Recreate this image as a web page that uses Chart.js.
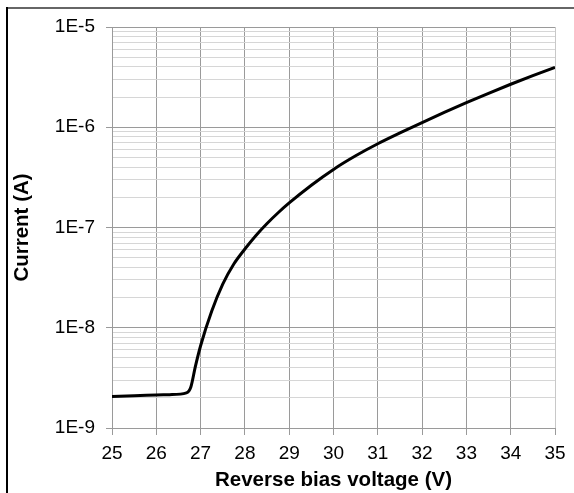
<!DOCTYPE html>
<html>
<head>
<meta charset="utf-8">
<script src="https://cdn.jsdelivr.net/npm/chart.js@4"></script>
<style>
  html, body { margin: 0; padding: 0; background: #fff; }
  #wrap { position: relative; width: 574px; height: 493px; overflow: hidden; }
  #c { position: absolute; left: 0; top: 0; }
  #frameTop { position: absolute; left: 6px; top: 7px; width: 568px; height: 2px; background: #666; }
  #frameLeft { position: absolute; left: 6px; top: 7px; width: 2px; height: 486px; background: #000; }
</style>
</head>
<body>
<div id="wrap">
  <canvas id="c" width="574" height="493"></canvas>
  <div id="frameTop"></div>
  <div id="frameLeft"></div>
</div>
<script>
// Reverse bias voltage (V)
const voltage = [25, 25.5, 26, 26.3, 26.68, 26.78, 26.88, 27.0, 27.25, 27.5, 27.75, 28.0, 28.25, 28.5, 28.75, 29, 29.5, 30, 30.5, 31, 31.5, 32, 32.5, 33, 33.5, 34, 34.5, 35];
// Current (A)
const current = [2.065e-9, 2.10e-9, 2.13e-9, 2.15e-9, 2.24e-9, 2.57e-9, 4.07e-9, 6.61e-9, 1.46e-8, 2.72e-8, 4.32e-8, 6.10e-8, 8.32e-8, 1.096e-7, 1.403e-7, 1.758e-7, 2.642e-7, 3.80e-7, 5.19e-7, 6.84e-7, 8.77e-7, 1.114e-6, 1.406e-6, 1.758e-6, 2.183e-6, 2.685e-6, 3.273e-6, 3.954e-6];

const xTicks = [25, 26, 27, 28, 29, 30, 31, 32, 33, 34, 35];
const yDecades = [1e-9, 1e-8, 1e-7, 1e-6, 1e-5];
const yDecadeLabels = ['1E-9', '1E-8', '1E-7', '1E-6', '1E-5'];
const minorMultipliers = [2, 3, 4, 5, 6, 7, 8, 9];

const points = voltage.map((v, i) => ({ x: v, y: current[i] }));

// gridline values: decades plus minor multiples within each decade
const yGridValues = [];
yDecades.forEach((d, i) => {
  yGridValues.push({ value: d, major: true, label: yDecadeLabels[i] });
  if (i < yDecades.length - 1) {
    minorMultipliers.forEach(m => yGridValues.push({ value: d * m, major: false, label: '' }));
  }
});

const FONT = "'Liberation Sans', Arial, sans-serif";
const MAJOR = '#9a9a9a';
const MINOR = '#d6d6d6';

new Chart(document.getElementById('c'), {
  type: 'line',
  data: {
    datasets: [{
      data: points,
      borderColor: '#000',
      borderWidth: 3,
      pointRadius: 0,
      fill: false,
      cubicInterpolationMode: 'monotone'
    }]
  },
  options: {
    responsive: false,
    animation: false,
    devicePixelRatio: 1,
    layout: { padding: { left: 0, right: 19, top: 27, bottom: 0 } },
    plugins: { legend: { display: false }, tooltip: { enabled: false } },
    scales: {
      x: {
        type: 'linear',
        min: 25, max: 35,
        afterBuildTicks: s => { s.ticks = xTicks.map(v => ({ value: v })); },
        afterFit: s => { s.height = 65; },
        ticks: {
          autoSkip: false,
          maxRotation: 0,
          padding: 7,
          color: '#000',
          font: { family: FONT, size: 19 },
          callback: v => String(v)
        },
        grid: {
          color: ctx => (ctx.tick && ctx.tick.value === 35) ? '#c8c8c8' : MAJOR,
          tickColor: MAJOR,
          tickLength: 7,
          lineWidth: 1
        },
        border: { color: MAJOR, width: 1 },
        title: {
          display: true,
          text: 'Reverse bias voltage (V)',
          color: '#000',
          font: { family: FONT, size: 20.5, weight: 'bold' },
          padding: { top: 0, bottom: 0 }
        }
      },
      y: {
        type: 'logarithmic',
        min: 1e-9, max: 1e-5,
        afterBuildTicks: s => { s.ticks = yGridValues.map(t => ({ value: t.value, major: t.major })); },
        afterFit: s => { s.width = 112; },
        ticks: {
          autoSkip: false,
          padding: 11,
          color: '#000',
          font: { family: FONT, size: 19 },
          callback: (v, i) => yGridValues[i] ? yGridValues[i].label : ''
        },
        grid: {
          color: ctx => (ctx.tick && yDecades.includes(ctx.tick.value)) ? MAJOR : MINOR,
          tickColor: ctx => (ctx.tick && yDecades.includes(ctx.tick.value)) ? MAJOR : 'rgba(0,0,0,0)',
          tickLength: 6,
          lineWidth: 1
        },
        border: { color: MAJOR, width: 1 },
        title: {
          display: true,
          text: 'Current (A)',
          color: '#000',
          font: { family: FONT, size: 20.5, weight: 'bold' },
          padding: { top: 10, bottom: 0 }
        }
      }
    }
  }
});
</script>
</body>
</html>
